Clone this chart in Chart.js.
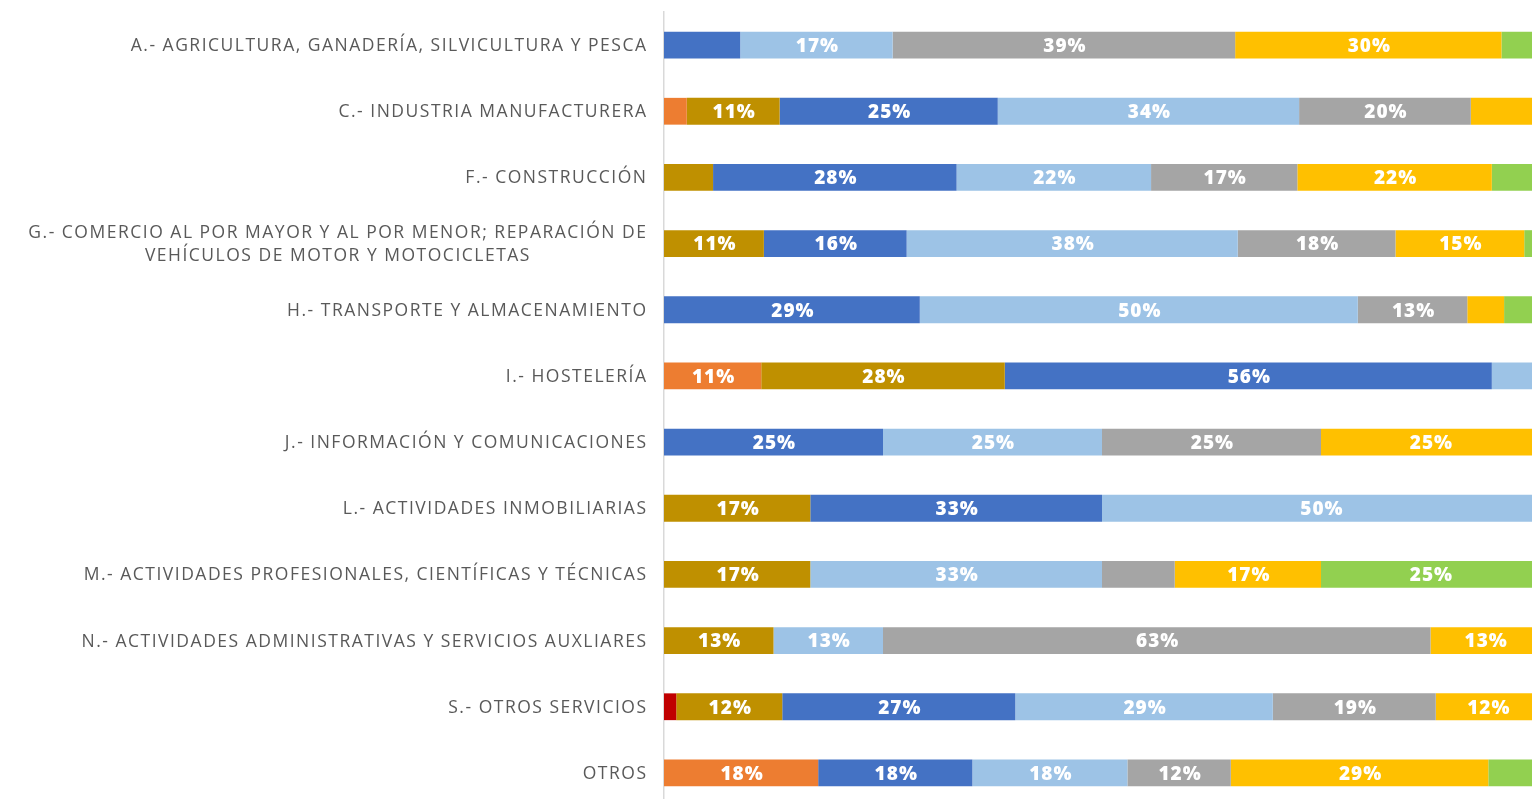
<!DOCTYPE html>
<html>
<head>
<meta charset="utf-8">
<script src="https://cdn.jsdelivr.net/npm/chart.js"></script>
<style>
  html, body { margin: 0; padding: 0; background: #fff; overflow: hidden; }
  #wrap { width: 1540px; height: 806px; }
</style>
</head>
<body>
<div id="wrap"><canvas id="myChart" width="1540" height="806"></canvas></div>
<script>
const sectors = [
  'A.- AGRICULTURA, GANADERÍA, SILVICULTURA Y PESCA',
  'C.- INDUSTRIA MANUFACTURERA',
  'F.- CONSTRUCCIÓN',
  ['G.- COMERCIO AL POR MAYOR Y AL POR MENOR; REPARACIÓN DE', 'VEHÍCULOS DE MOTOR Y MOTOCICLETAS'],
  'H.- TRANSPORTE Y ALMACENAMIENTO',
  'I.- HOSTELERÍA',
  'J.- INFORMACIÓN Y COMUNICACIONES',
  'L.- ACTIVIDADES INMOBILIARIAS',
  'M.- ACTIVIDADES PROFESIONALES, CIENTÍFICAS Y TÉCNICAS',
  'N.- ACTIVIDADES ADMINISTRATIVAS Y SERVICIOS AUXLIARES',
  'S.- OTROS SERVICIOS',
  'OTROS',
]

// one array per stacked series (share of each sector, %)
const serie1 = [0, 0, 0, 0, 0, 0, 0, 0, 0, 0, 1.4, 0]
const serie2 = [0, 2.6, 0, 0, 0, 11.1, 0, 0, 0, 0, 0, 17.6]
const serie3 = [0, 10.6, 5.6, 11.4, 0, 27.8, 0, 16.7, 16.7, 12.5, 12.1, 0]
const serie4 = [8.7, 24.9, 27.8, 16.3, 29.2, 55.6, 25, 33.3, 0, 0, 26.6, 17.6]
const serie5 = [17.4, 34.4, 22.2, 37.8, 50, 5.5, 25, 50, 33.3, 12.5, 29.4, 17.7]
const serie6 = [39.1, 19.6, 16.7, 18, 12.5, 0, 25, 0, 8.3, 62.5, 18.6, 11.8]
const serie7 = [30.4, 7.9, 22.2, 14.7, 4.2, 0, 25, 0, 16.7, 12.5, 11.9, 29.4]
const serie8 = [4.3, 0, 5.5, 1.6, 4.2, 0, 0, 0, 25, 0, 0, 5.9]

const seriesNames = ['Serie 1', 'Serie 2', 'Serie 3', 'Serie 4', 'Serie 5', 'Serie 6', 'Serie 7', 'Serie 8']
const seriesColors = ['#C00000', '#ED7D31', '#BF9000', '#4472C4', '#9DC3E6', '#A5A5A5', '#FFC000', '#92D050']
const seriesData = [serie1, serie2, serie3, serie4, serie5, serie6, serie7, serie8]

const labelFont = '400 17.5px "Open Sans"'
const valueFont = '800 19px "Open Sans"'

// percent labels inside the segments (only the wide ones)
const valueLabels = {
  id: 'valueLabels',
  afterDatasetsDraw(chart) {
    const ctx = chart.ctx
    ctx.save()
    ctx.font = valueFont
    ctx.letterSpacing = '1px'
    ctx.fillStyle = '#fff'
    ctx.textAlign = 'center'
    ctx.textBaseline = 'middle'
    chart.data.datasets.forEach((ds, i) => {
      chart.getDatasetMeta(i).data.forEach((bar, j) => {
        const v = ds.data[j]
        if (v < 10) return
        ctx.fillText(Math.round(v) + '%', (bar.x + bar.base) / 2 + 1, bar.y + 1.5)
      })
    })
    ctx.restore()
  }
}

// sector names, right aligned; wrapped ones centred on each other
const sectorLabels = {
  id: 'sectorLabels',
  afterDraw(chart) {
    const ctx = chart.ctx
    const y = chart.scales.y
    const right = chart.chartArea.left - 16.5
    const lineH = 23
    ctx.save()
    ctx.font = labelFont
    ctx.letterSpacing = '1.5px'
    ctx.fillStyle = '#595959'
    ctx.textAlign = 'center'
    ctx.textBaseline = 'middle'
    sectors.forEach((lab, i) => {
      const lines = Array.isArray(lab) ? lab : [lab]
      const w = Math.max(...lines.map(l => ctx.measureText(l).width))
      const cx = right - w / 2
      const cy = y.getPixelForTick(i)
      lines.forEach((l, k) => {
        ctx.fillText(l, cx, cy + 1 + (k - (lines.length - 1) / 2) * lineH)
      })
    })
    ctx.restore()
  }
}

const ctx = document.getElementById('myChart').getContext('2d')
const myChart = new Chart(ctx, {
  type: 'bar',
  data: {
    labels: sectors,
    datasets: seriesData.map((d, i) => ({
      label: seriesNames[i],
      data: d,
      backgroundColor: seriesColors[i],
      borderWidth: 0,
      categoryPercentage: 1,
      barPercentage: 0.405,
    }))
  },
  options: {
    indexAxis: 'y',
    responsive: false,
    animation: false,
    layout: { padding: { top: 12, left: 0, right: 0, bottom: 0 } },
    plugins: {
      legend: { display: false },
      tooltip: { enabled: false },
    },
    scales: {
      x: {
        stacked: true,
        min: 0,
        max: 100,
        display: false,
      },
      y: {
        stacked: true,
        grid: { display: false },
        border: { display: true, color: '#D9D9D9', width: 1.5 },
        ticks: { display: false },
        afterFit(scale) { scale.width = 664 },
      }
    }
  },
  plugins: [valueLabels, sectorLabels]
})
</script>
</body>
</html>
